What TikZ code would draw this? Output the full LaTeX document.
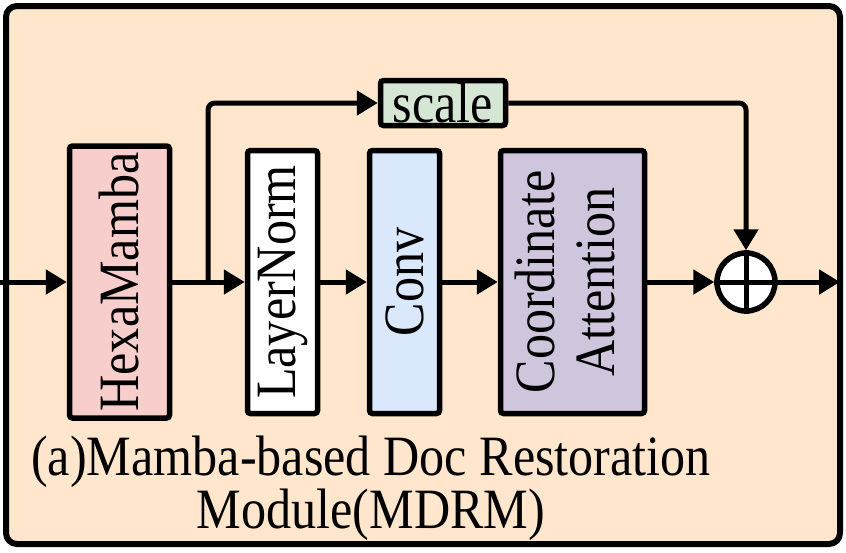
\documentclass[tikz,border=0pt]{standalone}
\usepackage{fontspec}
\setmainfont{Liberation Serif}[FakeStretch=0.88]
\usetikzlibrary{arrows.meta}
\definecolor{peach}{HTML}{FFE6CC}
\definecolor{hmred}{HTML}{F8CECC}
\definecolor{convblue}{HTML}{DAE8FC}
\definecolor{capurple}{HTML}{CFC5DC}
\definecolor{scgreen}{HTML}{D5E6D4}
\tikzset{
  blk/.style={draw=black, line width=5.5pt, rounded corners=3pt, inner sep=0pt, align=center},
  conn/.style={line width=5pt, -{Triangle[length=21pt,width=24pt]}},
  txt/.style={font=\fontsize{57}{60}\selectfont},
}
\begin{document}
\begin{tikzpicture}[x=1pt,y=-1pt]
\useasboundingbox (0,0) rectangle (846,552);
\draw[line width=6pt, fill=peach, rounded corners=11pt] (6,6) rectangle (840,544) ;
\node[blk, fill=hmred, minimum width=100pt, minimum height=272pt, txt] (hm) at (119.5,282) {\rotatebox{90}{HexaMamba}};
\node[blk, fill=white, minimum width=70pt, minimum height=263pt, txt] (ln) at (282.5,282) {\rotatebox{90}{LayerNorm}};
\node[blk, fill=convblue, minimum width=70pt, minimum height=263pt, txt] (cv) at (404.5,282) {\rotatebox{90}{Conv}};
\node[blk, fill=capurple, minimum width=144pt, minimum height=263pt, txt] (ca) at (572.5,282) {\rotatebox{90}{\begin{tabular}{@{}c@{}}Coordinate\\Attention\end{tabular}}};
\node[blk, fill=scgreen, minimum width=125pt, minimum height=45pt, txt] (sc) at (443,103) {scale};
\node[draw=black, line width=5.5pt, fill=white, circle, minimum size=58pt, inner sep=0pt] (pl) at (746,282) {};
\draw[line width=5pt] (pl.north) -- (pl.south) (pl.west) -- (pl.east);
\coordinate (in) at (0,282);
\coordinate (br) at (208,282);
\coordinate (out) at (840,282);
\draw[conn] (in) -- (hm.west);
\draw[conn] (hm.east) -- (ln.west);
\draw[conn] (ln.east) -- (cv.west);
\draw[conn] (cv.east) -- (ca.west);
\draw[conn] (ca.east) -- (pl.west);
\draw[conn] (pl.east) -- (out);
\draw[conn, rounded corners=7pt] (br) |- (sc.west);
\draw[conn, rounded corners=7pt] (sc.east) -| (pl.north);
\node[anchor=base, inner sep=0pt, align=center, font=\fontsize{57}{50}\selectfont] (cap) at (371,528) {(a)Mamba-based Doc Restoration\\Module(MDRM)};
\end{tikzpicture}
\end{document}
